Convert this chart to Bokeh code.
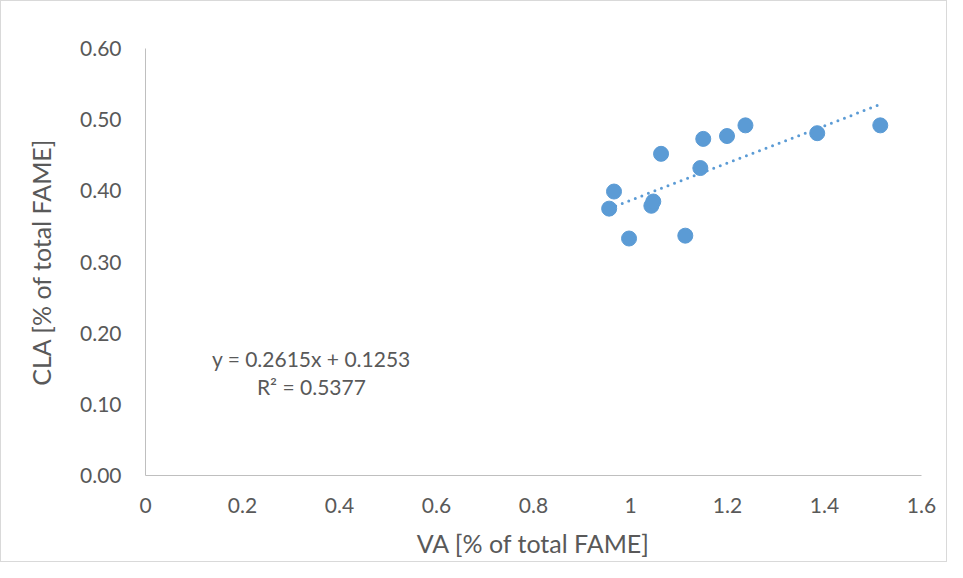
from bokeh.plotting import figure
from bokeh.models import Range1d, FixedTicker, NumeralTickFormatter, Label
from bokeh.embed import file_html
from bokeh.resources import INLINE

# Data
va = [0.956, 0.966, 0.997, 1.043, 1.047, 1.063, 1.113, 1.144, 1.150, 1.199, 1.237, 1.385, 1.515]
cla = [0.375, 0.399, 0.333, 0.379, 0.385, 0.452, 0.337, 0.432, 0.473, 0.477, 0.492, 0.481, 0.492]

slope = 0.2615
intercept = 0.1253
r2 = 0.5377

x_ticks = [0, 0.2, 0.4, 0.6, 0.8, 1.0, 1.2, 1.4, 1.6]
x_tick_labels = ["0", "0.2", "0.4", "0.6", "0.8", "1", "1.2", "1.4", "1.6"]
y_ticks = [0.0, 0.1, 0.2, 0.3, 0.4, 0.5, 0.6]

FONT = "Lato"
TXT = "#595959"
BLUE = "#5B9BD5"

p = figure(width=947, height=562, output_backend="svg", toolbar_location=None,
           x_range=Range1d(0, 1.6), y_range=Range1d(0, 0.6),
           min_border_left=144, min_border_right=27, min_border_top=47, min_border_bottom=88)
p.styles = {"border": "1px solid #d9d9d9"}
p.outline_line_color = None
p.xgrid.grid_line_color = None
p.ygrid.grid_line_color = None

for ax in (p.xaxis, p.yaxis):
    ax.axis_line_color = "#bfbfbf"
    ax.axis_line_width = 1
    ax.major_tick_line_color = None
    ax.minor_tick_line_color = None
    ax.major_tick_out = 0
    ax.major_tick_in = 0
    ax.minor_tick_out = 0
    ax.major_label_text_font = FONT
    ax.major_label_text_font_size = "21px"
    ax.major_label_text_color = TXT
    ax.axis_label_text_font = FONT
    ax.axis_label_text_font_size = "25px"
    ax.axis_label_text_color = TXT
    ax.axis_label_text_font_style = "normal"

p.xaxis.ticker = FixedTicker(ticks=x_ticks)
p.xaxis.major_label_overrides = {t: l for t, l in zip(x_ticks, x_tick_labels)}
p.xaxis.major_label_standoff = 22
p.xaxis.axis_label = "VA [% of total FAME]"
p.xaxis.axis_label_standoff = 12

p.yaxis.ticker = FixedTicker(ticks=y_ticks)
p.yaxis.formatter = NumeralTickFormatter(format="0.00")
p.yaxis.major_label_standoff = 24
p.yaxis.axis_label = "CLA [% of total FAME]"
p.yaxis.axis_label_standoff = 21

# Trendline
x0, x1 = min(va), max(va)
p.line([x0, x1], [slope * x0 + intercept, slope * x1 + intercept],
       line_color=BLUE, line_width=3, line_dash="0 7", line_cap="round")

p.scatter(va, cla, size=15, fill_color=BLUE, line_color=BLUE, line_width=1)

p.add_layout(Label(x=0.342, y=0.164, text=f"y = {slope}x + {intercept}",
                   text_font=FONT, text_font_size="21px", text_color=TXT,
                   text_align="center", text_baseline="middle"))
p.add_layout(Label(x=0.342, y=0.125, text=f"R² = {r2}",
                   text_font=FONT, text_font_size="21px", text_color=TXT,
                   text_align="center", text_baseline="middle"))

open("out.html", "w").write(file_html(p, INLINE))
